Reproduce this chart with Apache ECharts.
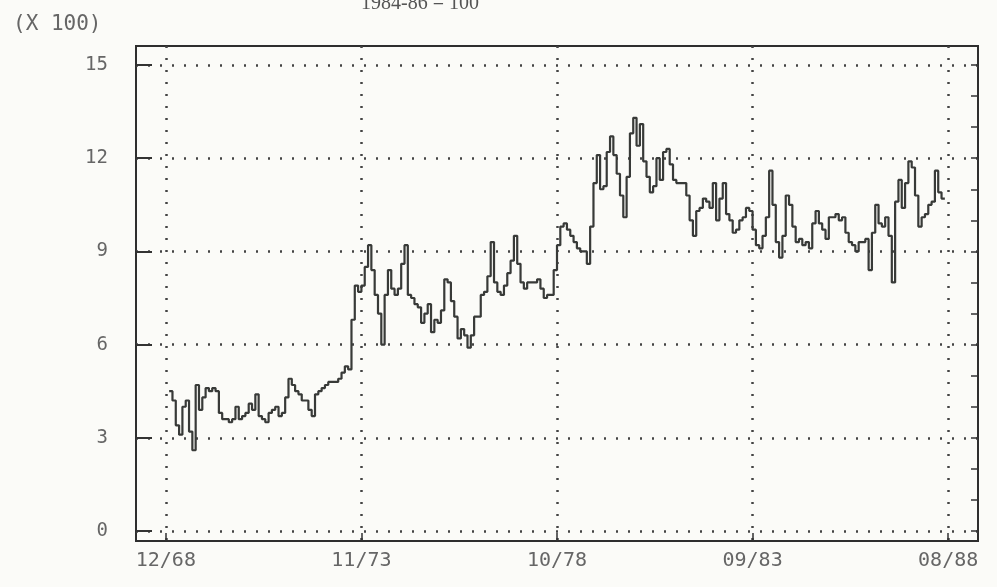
<!DOCTYPE html>
<html>
<head>
<meta charset="utf-8">
<script src="https://cdn.jsdelivr.net/npm/echarts@6/dist/echarts.min.js"></script>
<style>
  html, body { margin: 0; padding: 0; background: #fbfbf8; }
  #chart { width: 997px; height: 587px; }
</style>
</head>
<body>
<div id="chart"></div>
<script>
// Labelled months on the time axis
const tickLabels = ['12/68', '11/73', '10/78', '09/83', '08/88'];
// Value-axis steps (index in hundreds)
const yTickStep = 3;
const yMin = 0;
const yMax = 15;
// First month of the monthly index series
const seriesStart = '01/69';
// Monthly index values, 1984-86 = 100, in units of 100
const indexValues = [
  4.5, 4.2, 3.4, 3.1, 4.0, 4.2, 3.2, 2.6, 4.7, 3.9, 4.3, 4.6,
  4.5, 4.6, 4.5, 3.8, 3.6, 3.6, 3.5, 3.6, 4.0, 3.6, 3.7, 3.8,
  4.1, 3.9, 4.4, 3.7, 3.6, 3.5, 3.8, 3.9, 4.0, 3.7, 3.8, 4.3,
  4.9, 4.7, 4.5, 4.4, 4.2, 4.2, 3.9, 3.7, 4.4, 4.5, 4.6, 4.7,
  4.8, 4.8, 4.8, 4.9, 5.1, 5.3, 5.2, 6.8, 7.9, 7.7, 7.9, 8.5,
  9.2, 8.4, 7.6, 7.0, 6.0, 7.6, 8.4, 7.8, 7.6, 7.8, 8.6, 9.2,
  7.6, 7.5, 7.3, 7.2, 6.7, 7.0, 7.3, 6.4, 6.8, 6.7, 7.1, 8.1,
  8.0, 7.4, 6.9, 6.2, 6.5, 6.3, 5.9, 6.3, 6.9, 6.9, 7.6, 7.7,
  8.2, 9.3, 8.0, 7.7, 7.6, 7.9, 8.3, 8.7, 9.5, 8.6, 8.0, 7.8,
  8.0, 8.0, 8.0, 8.1, 7.8, 7.5, 7.6, 7.6, 8.4, 9.2, 9.8, 9.9, 9.7,
  9.5, 9.3, 9.1, 9.0, 9.0, 8.6, 9.8, 11.2, 12.1, 11.0, 11.1, 12.2,
  12.7, 12.1, 11.5, 10.8, 10.1, 11.4, 12.8, 13.3, 12.4, 13.1, 11.9, 11.4,
  10.9, 11.1, 12.0, 11.3, 12.2, 12.3, 11.8, 11.3, 11.2, 11.2, 11.2, 10.8,
  10.0, 9.5, 10.3, 10.4, 10.7, 10.6, 10.4, 11.2, 10.0, 10.7, 11.2, 10.2,
  10.0, 9.6, 9.7, 10.0, 10.1, 10.4, 10.3, 9.7, 9.2, 9.1, 9.5, 10.1,
  11.6, 10.5, 9.3, 8.8, 9.5, 10.8, 10.5, 9.8, 9.3, 9.4, 9.2, 9.3,
  9.1, 9.9, 10.3, 9.9, 9.7, 9.4, 10.1, 10.1, 10.2, 10.0, 10.1, 9.6, 9.3,
  9.2, 9.0, 9.3, 9.3, 9.4, 8.4, 9.6, 10.5, 9.9, 9.8, 10.1, 9.5,
  8.0, 10.6, 11.3, 10.4, 11.2, 11.9, 11.7, 10.8, 9.8, 10.1, 10.2, 10.5,
  10.6, 11.6, 10.9, 10.7
];

// Month categories spanning the plotting frame, 03/68 .. 05/89
const months = [];
for (let y = 68; y <= 89; y++) {
  for (let m = 1; m <= 12; m++) {
    if (y === 68 && m < 3) continue;
    if (y === 89 && m > 5) break;
    months.push(String(m).padStart(2, '0') + '/' + y);
  }
}

const startIdx = months.indexOf(seriesStart);
const seriesData = months.map(function (_, i) {
  const k = i - startIdx;
  return (k >= 0 && k < indexValues.length) ? indexValues[k] : null;
});

const isTick = function (index) { return tickLabels.indexOf(months[index]) !== -1; };

const printFont = 'DejaVu Sans Mono';
const dotted = { type: [2, 10], color: '#444', width: 2.5 };

const chart = echarts.init(document.getElementById('chart'));
chart.setOption({
  backgroundColor: '#fbfbf8',
  animation: false,
  title: [
    {
      text: '1984-86 = 100',
      left: 356, top: -11,
      textStyle: { fontFamily: 'Liberation Serif', fontSize: 20, fontWeight: 'normal', color: '#555' }
    },
    {
      text: '(X 100)',
      left: 8, top: 9,
      textStyle: { fontFamily: printFont, fontSize: 21, fontWeight: 'normal', color: '#666' }
    }
  ],
  grid: [
    // outer frame of the plot
    { left: 136, right: 19, top: 46, bottom: 46, show: true, borderColor: '#2e2e2e', borderWidth: 2, backgroundColor: 'transparent' },
    // value area: 0 .. 15
    { left: 136, right: 19, top: 65, bottom: 56 }
  ],
  xAxis: [
    {
      gridIndex: 0, type: 'category', data: months, boundaryGap: false,
      axisLine: { show: false },
      axisTick: { show: true, inside: true, length: 8, interval: isTick, lineStyle: { color: '#333', width: 1.5 } },
      axisLabel: { interval: isTick, margin: 10, fontFamily: printFont, fontSize: 20, color: '#666' },
      splitLine: { show: true, interval: isTick, lineStyle: dotted }
    },
    { gridIndex: 1, type: 'category', data: months, boundaryGap: false, show: false }
  ],
  yAxis: [
    { gridIndex: 0, type: 'value', show: false, splitLine: { show: false } },
    {
      gridIndex: 1, type: 'value', min: yMin, max: yMax, interval: yTickStep,
      axisLine: { show: false },
      axisTick: { show: true, inside: true, length: 16, lineStyle: { color: '#333', width: 2 } },
      axisLabel: { margin: 28, fontFamily: printFont, fontSize: 19, color: '#666' },
      splitLine: { show: true, lineStyle: dotted }
    },
    {
      gridIndex: 1, type: 'value', position: 'right', min: yMin, max: yMax, interval: 1,
      axisLine: { show: false },
      axisTick: { show: true, inside: true, length: 7, lineStyle: { color: '#333', width: 1.5 } },
      axisLabel: { show: false },
      splitLine: { show: false }
    }
  ],
  series: [
    {
      type: 'line', xAxisIndex: 1, yAxisIndex: 1,
      data: seriesData,
      step: 'end',
      showSymbol: false,
      lineStyle: { color: '#383a38', width: 2.2 }
    }
  ]
});
</script>
</body>
</html>
